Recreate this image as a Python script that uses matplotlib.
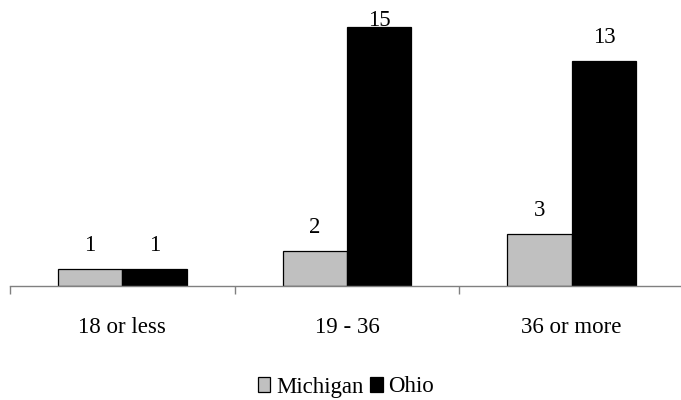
import matplotlib

matplotlib.use("Agg", force=True)
import matplotlib.pyplot as plt
import numpy as np
from matplotlib.patches import Patch

categories = ["18 or less", "19 - 36", "36 or more"]
michigan = [1, 2, 3]
ohio = [1, 15, 13]
series_names = ["Michigan", "Ohio"]

plt.rcParams["font.family"] = ["Liberation Serif", "DejaVu Serif"]

fig = plt.figure(figsize=(6.81, 4.0), dpi=100)
ax = fig.add_axes([10 / 681, 1 - 286 / 400, 674 / 681, 286 / 400])

x = np.arange(len(categories)) + 0.5
width = 0.287
ymax = 286 / 17.3

colors = ["#c0c0c0", "#000000"]
for offset, values, color in ((-width / 2, michigan, colors[0]), (width / 2, ohio, colors[1])):
    ax.bar(x + offset, values, width=width, color=color, edgecolor="black", linewidth=0.9)
    for xi, v in zip(x + offset, values):
        # keep label inside the figure when the bar is near the top
        base = min(v + 18 / 17.3, ymax - 27 / 17.3)
        base = max(base, v)
        ax.text(xi, base, str(v), ha="center", va="baseline", fontsize=16.5)

ax.set_xlim(0, len(categories))
ax.set_ylim(0, ymax)
ax.set_yticks([])
ax.set_xticks(np.arange(len(categories) + 1))
ax.set_xticklabels([])
ax.set_xticks(x, minor=True)
ax.set_xticklabels(categories, minor=True, fontsize=16.5)
ax.tick_params(axis="x", which="major", direction="out", length=6, color="#808080", width=1)
ax.tick_params(axis="x", which="minor", length=0, pad=22)
for side in ("top", "right", "left"):
    ax.spines[side].set_visible(False)
ax.spines["bottom"].set_color("#808080")
ax.spines["bottom"].set_linewidth(1)

handles = [Patch(facecolor=c, edgecolor="black", linewidth=0.9) for c in colors]
fig.legend(handles, series_names, loc="center", bbox_to_anchor=(346 / 681, 1 - 387 / 400),
           ncol=2, frameon=False, fontsize=16.5, handlelength=0.55, handleheight=0.6,
           handletextpad=0.25, columnspacing=0.3, borderpad=0)

fig.savefig("out.png", dpi=100)
